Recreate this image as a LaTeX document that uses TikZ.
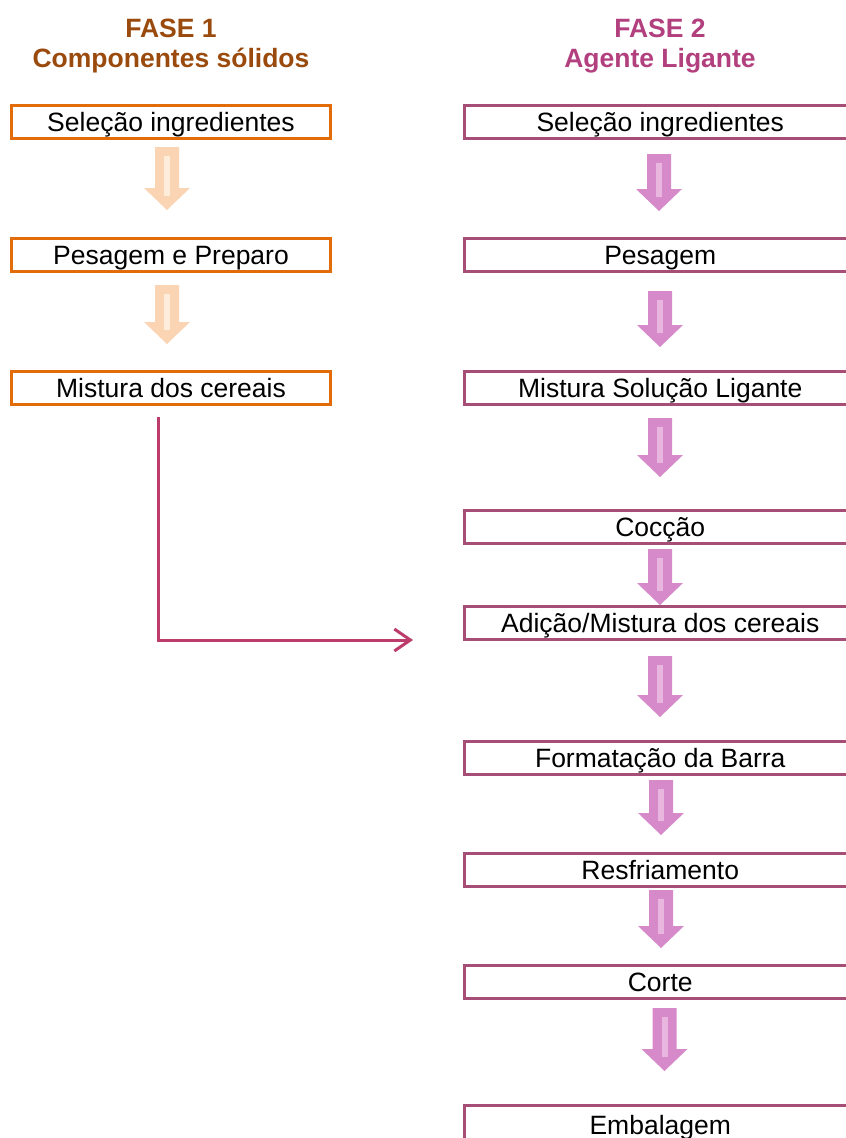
\documentclass[tikz,border=0pt]{standalone}
\usepackage{fontspec}
\setmainfont{Liberation Sans}
\usetikzlibrary{arrows.meta}
\definecolor{orangeB}{HTML}{E36C0A}
\definecolor{mauveB}{HTML}{A64E75}
\definecolor{hdrA}{HTML}{9A4A0C}
\definecolor{hdrB}{HTML}{B3407E}
\definecolor{peach}{HTML}{FBD4B4}
\definecolor{peachL}{HTML}{FEEDDB}
\definecolor{pinkA}{HTML}{D68AC9}
\definecolor{pinkL}{HTML}{E8B6DF}
\definecolor{connC}{HTML}{BC3D6B}
\newcommand\blockarrow[5]{%
  \fill[#4] (#1-12,#2) -- (#1+12,#2) -- (#1+12,#3-22) -- (#1+23,#3-22) -- (#1,#3) -- (#1-23,#3-22) -- (#1-12,#3-22) -- cycle;
  \fill[#5] (#1-3,#2+9) rectangle (#1+3,#3-14);
}
\tikzset{
  basebox/.style={line width=3pt, inner sep=0pt, text height=19pt, text depth=0pt, fill=white},
  lbox/.style={basebox, draw=orangeB, minimum width=319pt, minimum height=33pt},
  rbox/.style={basebox, draw=mauveB, minimum width=392pt, minimum height=33pt},
  hdrone/.style={font=\fontsize{26.5}{30}\selectfont\bfseries, text=hdrA, inner sep=0pt, anchor=base},
  hdrtwo/.style={font=\fontsize{26.5}{30}\selectfont\bfseries, text=hdrB, inner sep=0pt, anchor=base},
  linkline/.style={draw=connC, line width=3pt, -{Straight Barb[length=16pt,width=22pt]}},
}
\begin{document}
\begin{tikzpicture}[x=1pt,y=-1pt,font=\fontsize{26.5}{30}\selectfont]
\path[use as bounding box] (0,0) rectangle (846,1138);
\clip (0,0) rectangle (846,1138);
\fill[white] (0,0) rectangle (846,1138);
% headers
\node[hdrone] (h1a) at (171,37) {FASE 1};
\node[hdrone] (h1b) at (171,67.5) {Componentes sólidos};
\node[hdrtwo] (h2a) at (660,37) {FASE 2};
\node[hdrtwo] (h2b) at (660,67.5) {Agente Ligante};
% left column
\node[lbox] (l1) at (171,122) {Seleção ingredientes};
\node[lbox] (l2) at (171,254.5) {Pesagem e Preparo};
\node[lbox] (l3) at (171,387.5) {Mistura dos cereais};
\blockarrow{167}{147}{210}{peach}{peachL}
\blockarrow{167}{285}{344}{peach}{peachL}
% right column
\node[rbox] (r1) at (660.25,122.25) {Seleção ingredientes};
\node[rbox] (r2) at (660.25,254.5) {Pesagem};
\node[rbox] (r3) at (660.25,387.5) {Mistura Solução Ligante};
\node[rbox] (r4) at (660.25,527) {Cocção};
\node[rbox] (r5) at (660.25,623.25) {Adição/Mistura dos cereais};
\node[rbox] (r6) at (660.25,757.5) {Formatação da Barra};
\node[rbox] (r7) at (660.25,869.5) {Resfriamento};
\node[rbox] (r8) at (660.25,981.5) {Corte};
\node[rbox, minimum height=38pt] (r9) at (660.25,1124.5) {Embalagem};
\blockarrow{659}{154}{211}{pinkA}{pinkL}
\blockarrow{660}{291}{347}{pinkA}{pinkL}
\blockarrow{660}{418}{477}{pinkA}{pinkL}
\blockarrow{660}{549}{605}{pinkA}{pinkL}
\blockarrow{660}{656}{717}{pinkA}{pinkL}
\blockarrow{661}{780}{835}{pinkA}{pinkL}
\blockarrow{661}{890}{948}{pinkA}{pinkL}
\blockarrow{664.5}{1008}{1071}{pinkA}{pinkL}
% connector
\coordinate (cs) at (158,417);
\coordinate (ce) at (413,640);
\draw[linkline] (cs) |- (ce);
\end{tikzpicture}
\end{document}
